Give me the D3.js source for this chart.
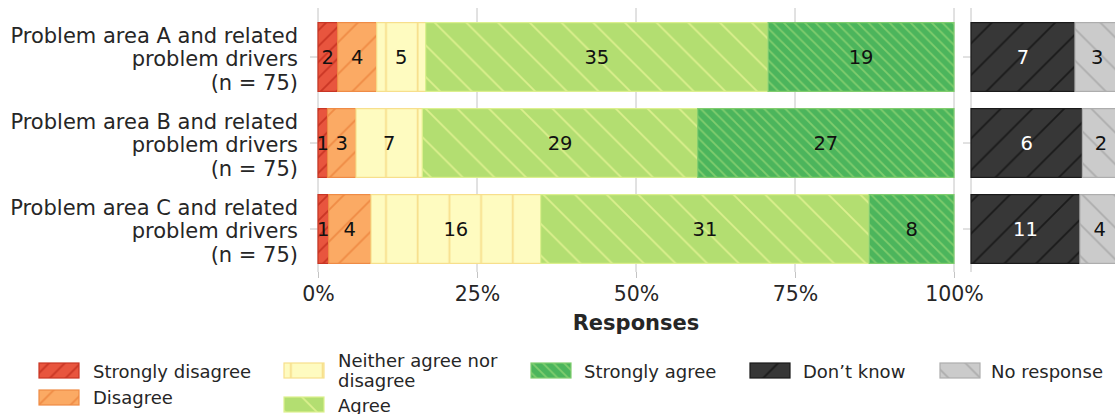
<!DOCTYPE html>
<html>
<head>
<meta charset="utf-8">
<script src="https://cdn.jsdelivr.net/npm/d3@7"></script>
<style>
  html, body { margin: 0; padding: 0; background: #fff; }
  svg { display: block; font-family: "DejaVu Sans", sans-serif; }
</style>
</head>
<body>
<div id="chart"></div>
<script>
const categories = [
  "Problem area A and related|problem drivers|(n = 75)",
  "Problem area B and related|problem drivers|(n = 75)",
  "Problem area C and related|problem drivers|(n = 75)"
];
const stronglyDisagree = [2, 1, 1];
const disagree = [4, 3, 4];
const neutral = [5, 7, 16];
const agree = [35, 29, 31];
const stronglyAgree = [19, 27, 8];
const dontKnow = [7, 6, 11];
const noResponse = [3, 2, 4];
const xTicks = [0, 0.25, 0.5, 0.75, 1];

const likertLevels = [
  { key: "sd", name: "Strongly disagree", values: stronglyDisagree },
  { key: "d", name: "Disagree", values: disagree },
  { key: "n", name: "Neither agree nor|disagree", values: neutral },
  { key: "a", name: "Agree", values: agree },
  { key: "sa", name: "Strongly agree", values: stronglyAgree }
];
const missingLevels = [
  { key: "dk", name: "Don’t know", values: dontKnow },
  { key: "nr", name: "No response", values: noResponse }
];

// fill, hatch colour, hatch kind, spacing
const hatchStyle = {
  sd: { fill: "#e8553e", line: "#c93524", kind: "ne", size: 15.85 },
  d:  { fill: "#fbaa64", line: "#ef8b45", kind: "ne", size: 31.7 },
  n:  { fill: "#fefbc0", line: "#f7df8c", kind: "v",  size: 31.7 },
  a:  { fill: "#b3de71", line: "#dcf08e", kind: "nw", size: 31.7 },
  sa: { fill: "#4cb55c", line: "#80cd6e", kind: "nw", size: 10.57 },
  dk: { fill: "#373737", line: "#1a1a1a", kind: "ne", size: 31.7 },
  nr: { fill: "#cbcbcb", line: "#adadad", kind: "nw", size: 31.7 }
};
const labelColor = { dk: "#ffffff" };

const width = 1115;
const height = 414;
const fontSize = 19.5;
const catFontSize = 21;
const tickFontSize = 20.5;
const textColor = "#262626";
const gridColor = "#c4c4c4";

const svg = d3.select("#chart").append("svg")
  .attr("width", width)
  .attr("height", height)
  .attr("viewBox", [0, 0, width, height]);

const defs = svg.append("defs");
Object.entries(hatchStyle).forEach(([key, h]) => {
  const s = h.size;
  const p = defs.append("pattern")
    .attr("id", "hatch-" + key)
    .attr("patternUnits", "userSpaceOnUse")
    .attr("width", s)
    .attr("height", s);
  p.append("rect").attr("width", s).attr("height", s).attr("fill", h.fill);
  let d;
  if (h.kind === "ne") {
    d = `M0,${s} L${s},0 M${-s / 2},${s / 2} L${s / 2},${-s / 2} M${s / 2},${1.5 * s} L${1.5 * s},${s / 2}`;
  } else if (h.kind === "nw") {
    d = `M0,0 L${s},${s} M${-s / 2},${s / 2} L${s / 2},${1.5 * s} M${s / 2},${-s / 2} L${1.5 * s},${s / 2}`;
  } else {
    d = `M5.6,0 L5.6,${s}`;
  }
  p.append("path").attr("d", d).attr("stroke", h.line).attr("stroke-width", 1.8).attr("fill", "none");
});

const x = d3.scaleLinear().domain([0, 1]).range([318, 954]);
const xMissing = d3.scaleLinear().domain([0, 1]).range([971, 1119.5]);
const y = d3.scaleBand()
  .domain(categories)
  .range([14, 272])
  .paddingInner(0.2)
  .paddingOuter(0.1);

// gridlines
function drawGrid(scale, ticks) {
  svg.append("g")
    .selectAll("line")
    .data(ticks)
    .join("line")
    .attr("x1", (d) => scale(d))
    .attr("x2", (d) => scale(d))
    .attr("y1", 8)
    .attr("y2", 272)
    .attr("stroke", gridColor)
    .attr("stroke-width", 1);
}
drawGrid(x, xTicks);
drawGrid(xMissing, [0]);

// bottom axis
const xAxis = svg.append("g")
  .attr("transform", "translate(0,272)")
  .call(d3.axisBottom(x).tickValues(xTicks).tickFormat(d3.format(".0%")).tickSize(6).tickPadding(8));
xAxis.select(".domain").remove();
xAxis.selectAll(".tick line").attr("stroke", gridColor);
xAxis.selectAll(".tick text")
  .attr("font-size", tickFontSize)
  .attr("fill", textColor)
  .attr("font-family", "DejaVu Sans");

svg.append("text")
  .attr("x", (x(0) + x(1)) / 2)
  .attr("y", 323)
  .attr("text-anchor", "middle")
  .attr("dominant-baseline", "central")
  .attr("font-size", catFontSize)
  .attr("font-weight", "bold")
  .attr("fill", textColor)
  .text("Responses");

// left axis ticks + labels
const yAxis = svg.append("g")
  .attr("transform", `translate(${x(0)},0)`)
  .call(d3.axisLeft(y).tickSize(8).tickFormat(""));
yAxis.select(".domain").remove();
yAxis.selectAll(".tick line").attr("stroke", gridColor);

const yAxisRight = svg.append("g")
  .attr("transform", `translate(${xMissing(0)},0)`)
  .call(d3.axisLeft(y).tickSize(8).tickFormat(""));
yAxisRight.select(".domain").remove();
yAxisRight.selectAll(".tick line").attr("stroke", gridColor);

const catLabels = svg.append("g")
  .selectAll("text")
  .data(categories)
  .join("text")
  .attr("text-anchor", "end")
  .attr("font-size", catFontSize)
  .attr("fill", textColor);
catLabels.each(function (d) {
  const lines = d.split("|");
  const cy = y(d) + y.bandwidth() / 2 + 2;
  d3.select(this).selectAll("tspan")
    .data(lines)
    .join("tspan")
    .attr("x", 298)
    .attr("y", (l, i) => cy + (i - 1) * 23.5)
    .attr("dominant-baseline", "central")
    .text((l) => l);
});

// stacked segments
function stackSegments(levels) {
  const rows = [];
  categories.forEach((cat, ci) => {
    const total = d3.sum(levels, (l) => l.values[ci]);
    let acc = 0;
    levels.forEach((l) => {
      const v = l.values[ci];
      rows.push({ cat, key: l.key, count: v, x0: acc / total, x1: (acc + v) / total });
      acc += v;
    });
  });
  return rows;
}

function drawBars(rows, scale) {
  const g = svg.append("g");
  g.selectAll("rect")
    .data(rows)
    .join("rect")
    .attr("x", (d) => scale(d.x0))
    .attr("y", (d) => y(d.cat))
    .attr("width", (d) => scale(d.x1) - scale(d.x0))
    .attr("height", y.bandwidth())
    .attr("fill", (d) => `url(#hatch-${d.key})`)
    .attr("stroke", (d) => hatchStyle[d.key].line)
    .attr("stroke-width", 1.2);

  g.selectAll("text")
    .data(rows)
    .join("text")
    .attr("x", (d) => scale((d.x0 + d.x1) / 2))
    .attr("y", (d) => y(d.cat) + y.bandwidth() / 2)
    .attr("text-anchor", "middle")
    .attr("dominant-baseline", "central")
    .attr("font-size", fontSize)
    .attr("fill", (d) => labelColor[d.key] || "#111")
    .text((d) => d.count);
}

drawBars(stackSegments(likertLevels), x);
drawBars(stackSegments(missingLevels), xMissing);

// legend
const legendItems = [
  { key: "sd", name: "Strongly disagree", sx: 39, sy: 363, tx: 93, ty: 371 },
  { key: "d", name: "Disagree", sx: 39, sy: 390, tx: 93, ty: 397 },
  { key: "n", name: "Neither agree nor|disagree", sx: 284, sy: 363, tx: 338, ty: 370 },
  { key: "a", name: "Agree", sx: 284, sy: 397, tx: 338, ty: 405 },
  { key: "sa", name: "Strongly agree", sx: 531, sy: 363, tx: 584, ty: 371 },
  { key: "dk", name: "Don’t know", sx: 750, sy: 363, tx: 803, ty: 371 },
  { key: "nr", name: "No response", sx: 940, sy: 363, tx: 991, ty: 371 }
];

const legend = svg.append("g");
legend.selectAll("rect")
  .data(legendItems)
  .join("rect")
  .attr("x", (d) => d.sx)
  .attr("y", (d) => d.sy)
  .attr("width", 40)
  .attr("height", 15)
  .attr("fill", (d) => `url(#hatch-${d.key})`)
  .attr("stroke", (d) => hatchStyle[d.key].line)
  .attr("stroke-width", 1.2);

legend.selectAll("text")
  .data(legendItems)
  .join("text")
  .attr("font-size", 18)
  .attr("fill", textColor)
  .each(function (d) {
    const lines = d.name.split("|");
    d3.select(this).selectAll("tspan")
      .data(lines)
      .join("tspan")
      .attr("x", d.tx)
      .attr("y", (l, i) => d.ty + (i - (lines.length - 1) / 2) * 20)
      .attr("dominant-baseline", "central")
      .text((l) => l);
  });
</script>
</body>
</html>
